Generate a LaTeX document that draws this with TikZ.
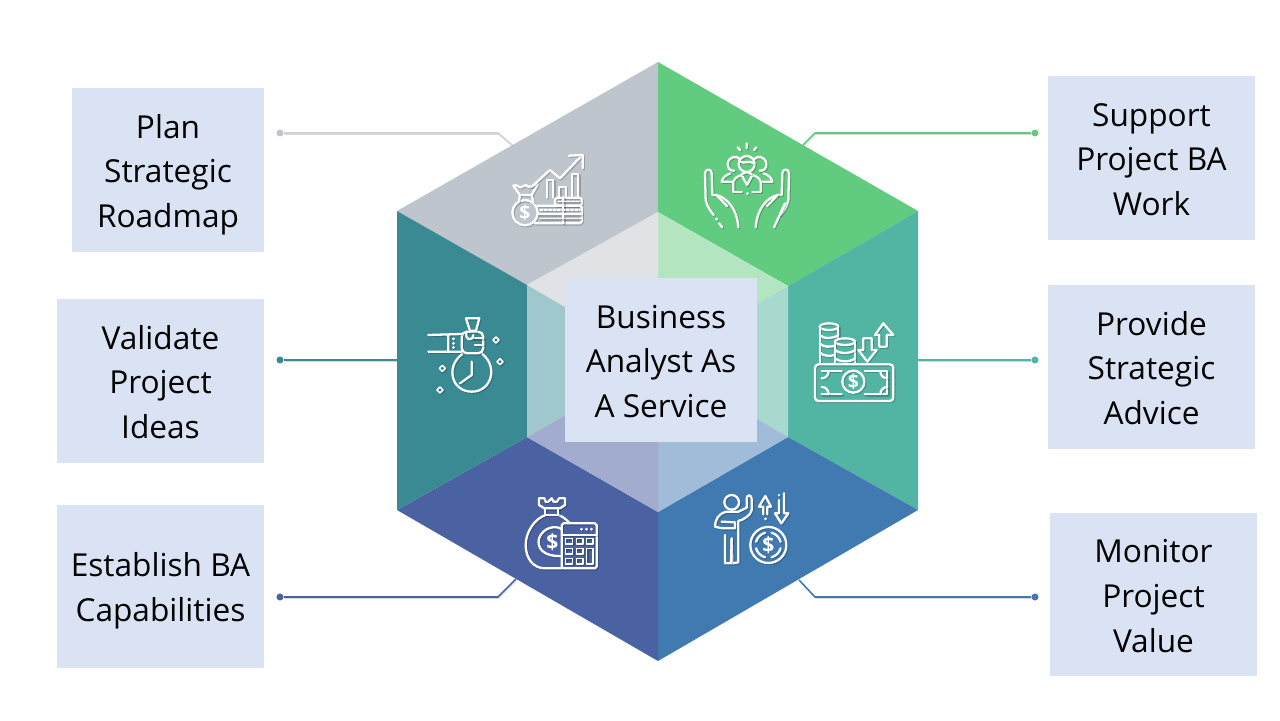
\documentclass[tikz,border=0pt]{standalone}
\usepackage{fontspec}
\setmainfont{Open Sans}
\definecolor{boxblue}{HTML}{DAE3F3}
\definecolor{grayside}{HTML}{BFC5CC}
\definecolor{greenside}{HTML}{61CB80}
\definecolor{tealside}{HTML}{52B5A4}
\definecolor{blueside}{HTML}{417AB1}
\definecolor{navyside}{HTML}{4A62A2}
\definecolor{petrolside}{HTML}{3A8A94}
\definecolor{graypale}{HTML}{E0E2E6}
\definecolor{greenpale}{HTML}{B3E5C0}
\definecolor{tealpale}{HTML}{A8D9CF}
\definecolor{bluepale}{HTML}{A0BCD8}
\definecolor{navypale}{HTML}{A2ACCE}
\definecolor{petrolpale}{HTML}{A0C8CC}
\tikzset{
  infobox/.style={fill=boxblue, minimum width=4.14cm, minimum height=3.28cm, inner sep=0pt, align=center,
    font=\fontsize{18}{25.5}\selectfont,
    execute at end node={\rule[-5pt]{0pt}{5pt}}},
  leadline/.style={line width=0.9pt, preaction={draw=black, opacity=0.15, transform canvas={xshift=0.5pt, yshift=-0.8pt}}},
  leaddot/.style={circle, minimum size=4pt, inner sep=0pt},
  ico/.style={white, line width=1.3pt, line cap=round, line join=round},
  icoshade/.style={preaction={draw=black, opacity=0.2, transform canvas={xshift=0.6pt, yshift=-0.6pt}}},
  dollar/.style={font=\bfseries\fontsize{#1}{#1}\selectfont, inner sep=0pt}
}
\newcommand{\idraw}{\draw[icoshade]}
\newcommand{\topgap}{\rule{0pt}{19.6pt}}
\begin{document}
\begin{tikzpicture}[x=0.02cm, y=-0.02cm]
\useasboundingbox (0,0) rectangle (1280,720);
\coordinate (top) at (658,62);
\coordinate (upr) at (918,211);
\coordinate (lwr) at (918,510);
\coordinate (bot) at (658,661);
\coordinate (lwl) at (397,510);
\coordinate (upl) at (397,211);
\coordinate (itop) at (658,212);
\coordinate (iupr) at (788,286);
\coordinate (ilwr) at (788,437);
\coordinate (ibot) at (658,512);
\coordinate (ilwl) at (527,437);
\coordinate (iupl) at (527,285);
\coordinate (mid) at (658,361);
\foreach \a/\b/\c/\d/\side/\pale in {
  top/upl/iupl/itop/grayside/graypale,
  top/upr/iupr/itop/greenside/greenpale,
  upr/lwr/ilwr/iupr/tealside/tealpale,
  lwr/bot/ibot/ilwr/blueside/bluepale,
  bot/lwl/ilwl/ibot/navyside/navypale,
  lwl/upl/iupl/ilwl/petrolside/petrolpale} {
  \fill[\side] (\a) -- (\b) -- (\c) -- (\d) -- cycle;
  \fill[\pale] (\c) -- (\d) -- (mid) -- cycle;
}
\node[infobox, minimum width=3.84cm] (service) at (661,360) {\topgap Business\\Analyst As\\A Service};
\node[infobox, minimum width=3.84cm] (plan) at (168,170) {\topgap Plan\\Strategic\\Roadmap};
\node[infobox] (validate) at (160.5,381) {\topgap Validate\\Project\\Ideas};
\node[infobox] (establish) at (160.5,586.5) {\topgap Establish BA\\Capabilities};
\node[infobox] (support) at (1151.5,158) {\topgap Support\\Project BA\\Work};
\node[infobox] (provide) at (1151.5,367) {\topgap Provide\\Strategic\\Advice};
\node[infobox] (monitor) at (1153.5,594.5) {\topgap Monitor\\Project\\Value};
\node[leaddot, fill=grayside] (plandot) at (280,133) {};
\node[leaddot, fill=petrolside] (validatedot) at (280,360) {};
\node[leaddot, fill=navyside] (establishdot) at (280,597) {};
\node[leaddot, fill=greenside] (supportdot) at (1035,133) {};
\node[leaddot, fill=tealside] (providedot) at (1035,360) {};
\node[leaddot, fill=blueside] (monitordot) at (1035,597) {};
\coordinate (planbend) at (498,133);
\coordinate (planend) at (512,145);
\coordinate (validateend) at (397,360);
\coordinate (establishbend) at (498,597);
\coordinate (establishend) at (516,579);
\coordinate (supportbend) at (815,133);
\coordinate (supportend) at (803,145);
\coordinate (provideend) at (918,360);
\coordinate (monitorbend) at (815,597);
\coordinate (monitorend) at (799,580);
\draw[leadline, grayside!75] (plandot) -- (planbend) -- (planend);
\draw[leadline, petrolside] (validatedot) -- (validateend);
\draw[leadline, navyside] (establishdot) -- (establishbend) -- (establishend);
\draw[leadline, greenside] (supportdot) -- (supportbend) -- (supportend);
\draw[leadline, tealside] (providedot) -- (provideend);
\draw[leadline, blueside] (monitordot) -- (monitorbend) -- (monitorend);
\begin{scope}[ico, shift={(500,145)}, scale=1/3]
\idraw (75,203) circle (38);
\node[dollar=11] (growthsign) at (75,203) {\$};
\idraw (40,122) .. controls (50,116) and (55,128) .. (62,127) .. controls (72,125) and (75,115) .. (85,125) .. controls (95,128) and (105,115) .. (113,118) -- (95,150) -- (60,150) -- cycle;
\idraw (60,150) -- (56,170) (95,150) -- (100,172);
\idraw (140,158) -- (140,105) -- (160,105) -- (160,158);
\idraw (178,158) -- (178,125) -- (197,125) -- (197,158);
\idraw (215,158) -- (215,88) -- (235,88) -- (235,158);
\idraw[rounded corners=1pt] (165,158) rectangle (245,182);
\idraw[rounded corners=1pt] (112,182) -- (245,182) -- (245,235) -- (105,235);
\idraw (115,208) -- (245,208) (190,158) -- (190,235);
\idraw[dash pattern=on 1.5pt off 1pt, line width=0.9pt] (175,170) -- (240,170) (120,195) -- (240,195) (120,221) -- (240,221);
\idraw (95,125) -- (150,75) -- (180,100) -- (245,32);
\idraw (207,32) -- (248,30) -- (248,70);
\end{scope}
\foreach \s in {1,-1} {
\begin{scope}[ico, shift={(747,140)}, xscale=\s/3, yscale=1/3]
\idraw (-92,165) -- (-104,165) -- (-106,100) .. controls (-106,85) and (-126,85) .. (-126,100) -- (-124,180) .. controls (-120,200) and (-108,215) .. (-100,225);
\idraw (-92,165) .. controls (-55,175) and (-30,210) .. (-26,262);
\idraw (-92,165) -- (-60,198);
\idraw (-42,125) -- (-76,125) .. controls (-74,112) and (-62,105) .. (-50,100);
\idraw (-41,155) -- (-41,125) .. controls (-38,115) and (-28,108) .. (-16,105) -- (0,135);
\idraw (-41,155) -- (-16,155);
\idraw (-22,57) .. controls (-30,46) and (-56,48) .. (-58,72) .. controls (-59,85) and (-50,93) .. (-38,92);
\idraw (-28,22) -- (-21,30);
\end{scope}
}
\begin{scope}[ico, shift={(695,140)}, scale=1/3]
\idraw (155,72) circle (24);
\idraw (133,65) .. controls (150,72) and (165,60) .. (177,70);
\idraw (155,10) -- (155,25) (140,102) -- (155,96) -- (170,102);
\idraw[line width=1.6pt] (157,160) -- (157,161);
\idraw[line width=1.6pt] (64,236) -- (65,238);
\idraw (72,250) -- (82,262) (270,190) -- (237,262);
\end{scope}
\begin{scope}[ico, shift={(420,310)}, scale=1/3]
\idraw (127,132) .. controls (75,170) and (95,245) .. (155,245) .. controls (215,245) and (235,170) .. (187,132);
\idraw[rounded corners=3pt] (125,65) -- (190,65) -- (190,130) -- (125,130) -- cycle;
\idraw (25,75) -- (125,72) (25,125) -- (125,125) (85,75) -- (85,125);
\idraw (160,85) -- (190,85) (165,105) -- (190,105);
\idraw (140,65) .. controls (132,92) and (158,95) .. (160,75);
\idraw (138,25) -- (178,25) -- (168,62) -- (150,62) -- cycle;
\idraw[line width=1.5pt] (100,86) -- (100,87) (100,100) -- (100,101) (100,112) -- (100,113);
\idraw (155,155) -- (155,195) -- (120,220);
\foreach \px/\py in {228/90,240/155,67/175,60/240}
  \idraw[line width=0.9pt] (\px-9,\py) -- (\px,\py-9) -- (\px+9,\py) -- (\px,\py+9) -- cycle;
\end{scope}
\begin{scope}[ico, shift={(810,315)}, scale=1/3]
\idraw (57,35) ellipse (28 and 10);
\idraw (29,35) -- (29,145) (85,35) -- (85,68);
\idraw (29,60) .. controls (40,72) and (70,72) .. (85,60);
\idraw (29,85) .. controls (40,97) and (60,97) .. (75,92);
\idraw (29,112) .. controls (40,124) and (60,124) .. (75,120);
\idraw (105,80) ellipse (30 and 10);
\idraw (75,80) -- (75,145) (135,80) -- (135,145);
\idraw (75,105) .. controls (90,117) and (120,117) .. (135,105);
\idraw (75,130) .. controls (90,142) and (120,142) .. (135,130);
\idraw (160,70) -- (185,70) -- (185,105) -- (200,105) -- (172,140) -- (145,105) -- (160,105) -- cycle;
\idraw (208,95) -- (230,95) -- (230,60) -- (250,60) -- (220,25) -- (195,60) -- (208,60) -- cycle;
\idraw[rounded corners=2pt] (15,148) rectangle (250,258);
\idraw (130,200) circle (33);
\node[dollar=11] (cashsign) at (130,200) {\$};
\idraw (35,168) -- (95,168) (165,168) -- (232,168) -- (232,238) -- (165,238) (95,238) -- (35,238) -- cycle;
\idraw (35,190) .. controls (48,190) and (56,180) .. (56,168);
\idraw (35,216) .. controls (48,216) and (56,226) .. (56,238);
\idraw (232,190) .. controls (219,190) and (211,180) .. (211,168);
\idraw (232,216) .. controls (219,216) and (211,226) .. (211,238);
\end{scope}
\begin{scope}[ico, shift={(515,490)}, scale=1/3]
\idraw (92,75) .. controls (60,85) and (32,125) .. (32,165) .. controls (32,205) and (55,235) .. (90,235) -- (140,235);
\idraw (130,75) .. controls (145,80) and (155,90) .. (165,100);
\idraw (140,118) .. controls (125,105) and (85,110) .. (72,145) .. controls (65,175) and (85,200) .. (140,198);
\node[dollar=12] (budgetsign) at (112,155) {\$};
\idraw (72,25) -- (72,45) -- (88,55) -- (135,55) -- (150,45) -- (150,25) -- (132,25) -- (126,35) -- (116,35) -- (110,25) -- (100,35) -- (92,35) -- (88,25) -- cycle;
\idraw (90,55) -- (90,75) -- (130,75) -- (130,55);
\idraw[rounded corners=1pt] (140,100) rectangle (245,235);
\idraw (140,135) -- (245,135);
\idraw[line width=1.4pt] (200,117) -- (200,118) (215,117) -- (215,118) (230,117) -- (230,118);
\foreach \bx/\by in {152/145,184/145,214/145,152/175,184/175,152/205,184/205}
  \idraw[line width=0.9pt] (\bx,\by) rectangle (\bx+20,\by+17);
\idraw[line width=0.9pt] (214,175) rectangle (234,222);
\end{scope}
\begin{scope}[ico, shift={(705,485)}, scale=1/3]
\idraw (80,52) circle (22);
\idraw (125,40) .. controls (125,28) and (140,28) .. (140,42) -- (140,75) .. controls (138,90) and (115,105) .. (100,108) -- (100,232) -- (82,235) -- (80,160);
\idraw (80,160) -- (78,235) -- (60,235) -- (60,150);
\idraw (125,40) -- (125,68) -- (100,80) -- (65,80) .. controls (40,85) and (30,105) .. (30,125) -- (50,130) -- (90,130) -- (90,112) -- (50,110);
\idraw (175,88) -- (175,65) -- (162,65) -- (181,33) -- (198,65) -- (187,65) -- (187,88);
\idraw[line width=1.5pt] (181,101) -- (181,102);
\idraw[line width=1.5pt] (222,30) -- (222,31);
\idraw (222,45) -- (222,85) -- (210,85) -- (229,115) -- (250,85) -- (237,85) -- (237,25);
\idraw (190,180) circle (54);
\foreach \ang in {0,90,180,270}
  \idraw[shift={(190,180)}] (\ang+15:38) arc[start angle=\ang+15, end angle=\ang+75, radius=38];
\node[dollar=12] (valuesign) at (190,180) {\$};
\end{scope}
\end{tikzpicture}
\end{document}
